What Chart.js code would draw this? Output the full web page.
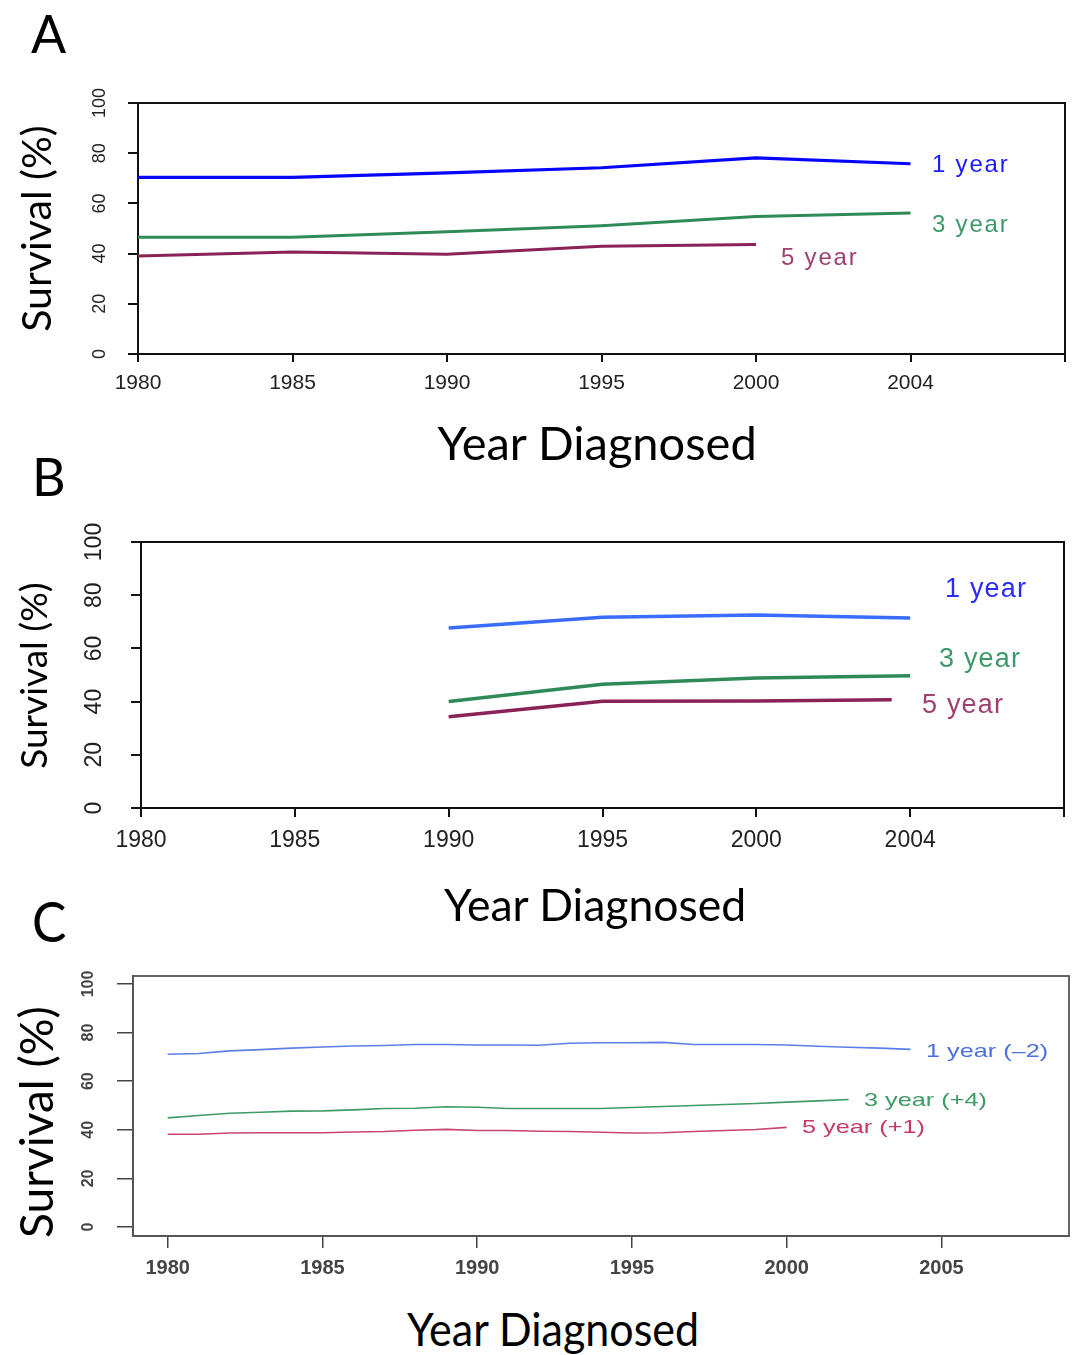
<!DOCTYPE html>
<html>
<head>
<meta charset="utf-8">
<script src="https://cdn.jsdelivr.net/npm/chart.js@4.4.1/dist/chart.umd.min.js"></script>
<style>
  html, body { margin: 0; padding: 0; background: #fff; }
  #root { position: relative; width: 1074px; height: 1355px; overflow: hidden; background: #fff; }
  canvas { position: absolute; left: 0; }
  .t { position: absolute; white-space: nowrap; line-height: 1; margin: 0; }
</style>
</head>
<body>
<div id="root">
  <canvas id="cA" width="1074" height="420" style="top:0px"></canvas>
  <canvas id="cB" width="1074" height="440" style="top:440px"></canvas>
  <canvas id="cC" width="1074" height="400" style="top:900px"></canvas>
</div>
<script>
// ---------------- DATA ----------------
// Panels A and B: periods of diagnosis (equally spaced on the axis)
const periodLabels = ['1980', '1985', '1990', '1995', '2000', '2004', ''];
const periodIndex = [0, 1, 2, 3, 4, 5];

const aOneYear   = [70.4, 70.4, 72.2, 74.2, 78.1, 75.8];
const aThreeYear = [46.5, 46.5, 48.7, 51.1, 54.8, 56.2];
const aFiveYear  = [39.0, 40.6, 39.7, 42.9, 43.6, null];

const bOneYear   = [null, null, 67.7, 71.7, 72.6, 71.4];
const bThreeYear = [null, null, 40.0, 46.5, 48.9, 49.7];
const bFiveYearPos = [2, 3, 4, 4.88];
const bFiveYear  = [34.3, 40.1, 40.2, 40.7];

// Panel C: annual values
const cYears = [1980, 1981, 1982, 1983, 1984, 1985, 1986, 1987, 1988, 1989, 1990, 1991, 1992,
                1993, 1994, 1995, 1996, 1997, 1998, 1999, 2000, 2001, 2002, 2003, 2004];
const cOneYear   = [71.1, 71.4, 72.5, 73.0, 73.6, 74.1, 74.5, 74.7, 75.1, 75.1, 74.9, 74.9, 74.8,
                    75.6, 75.8, 75.8, 76.0, 75.1, 75.1, 75.1, 74.9, 74.4, 74.0, 73.6, 73.1];
const cThreeYear = [44.9, 45.9, 46.8, 47.2, 47.7, 47.8, 48.2, 48.8, 48.9, 49.5, 49.3, 48.8, 48.8,
                    48.8, 48.8, 49.2, 49.6, 50.0, 50.4, 50.8, 51.4, 51.9, 52.5];
const cFiveYear  = [38.2, 38.2, 38.7, 38.8, 38.8, 38.8, 39.1, 39.3, 39.8, 40.2, 39.7, 39.7, 39.4,
                    39.3, 39.0, 38.7, 38.8, 39.3, 39.7, 40.1, 41.0];

const yTicks  = [0, 20, 40, 60, 80, 100];
const cXTicks = [1980, 1985, 1990, 1995, 2000, 2005];

const seriesNames = ['1 year', '3 year', '5 year'];
const cSeriesNames = ['1 year (\u20132)', '3 year (+4)', '5 year (+1)'];

// ---------------- HELPERS ----------------
const SANS = "'Liberation Sans', Arial, Helvetica, sans-serif";
const TITLE = "Lato, 'Open Sans', sans-serif";

const framePlugin = {
  id: 'frame',
  beforeDatasetsDraw(chart, args, opts) {
    const { ctx, chartArea: a } = chart;
    ctx.save();
    ctx.strokeStyle = opts.color || '#000';
    ctx.lineWidth = opts.width || 1;
    ctx.strokeRect(a.left, a.top, a.right - a.left, a.bottom - a.top);
    ctx.restore();
  }
};

function pts(xs, ys) { return ys.map((v, i) => ({ x: xs[i], y: v })); }

function line(label, data, color, width) {
  return { label, data, borderColor: color, backgroundColor: color, borderWidth: width,
           pointRadius: 0, tension: 0, fill: false, spanGaps: false, borderCapStyle: 'butt',
           borderJoinStyle: 'round' };
}

function makeChart(id, p) {
  const H = document.getElementById(id).height;
  return new Chart(document.getElementById(id), {
    type: 'line',
    data: { datasets: p.datasets },
    plugins: [framePlugin],
    options: {
      responsive: false, animation: false, devicePixelRatio: 1,
      layout: { padding: { top: p.area.top, right: 1074 - p.area.right, left: 0, bottom: 0 } },
      plugins: { legend: { display: false }, tooltip: { enabled: false },
                 frame: { color: p.frameColor, width: p.frameWidth } },
      scales: {
        x: {
          type: 'linear', min: p.xMin, max: p.xMax,
          afterBuildTicks: s => { s.ticks = p.xTickValues.map(v => ({ value: v })); },
          afterFit: s => { s.height = H - p.area.bottom; },
          ticks: { callback: p.xLabel, autoSkip: false, maxRotation: 0, minRotation: 0,
                   padding: p.xPad, color: p.tickColor,
                   font: { family: SANS, size: p.xFont, weight: p.tickWeight } },
          grid: { drawOnChartArea: false, drawTicks: true, tickLength: p.xTickLen,
                  color: p.axisColor, lineWidth: p.tickWidth },
          border: { display: true, color: p.axisColor, width: p.frameWidth }
        },
        y: {
          type: 'linear', min: p.yMin, max: p.yMax,
          afterBuildTicks: s => { s.ticks = yTicks.map(v => ({ value: v })); },
          afterFit: s => { s.width = p.area.left; },
          ticks: { minRotation: 90, maxRotation: 90, crossAlign: 'center', padding: p.yPad,
                   color: p.tickColor, font: { family: SANS, size: p.yFont, weight: p.tickWeight } },
          grid: { drawOnChartArea: false, drawTicks: true, tickLength: p.yTickLen,
                  color: p.axisColor, lineWidth: p.tickWidth },
          border: { display: true, color: p.axisColor, width: p.frameWidth }
        }
      }
    }
  });
}

// ---------------- CHARTS ----------------
makeChart('cA', {
  area: { left: 138, right: 1071, top: 103, bottom: 354 },
  xMin: 0, xMax: 6, xTickValues: [0, 1, 2, 3, 4, 5, 6], xLabel: v => periodLabels[v],
  yMin: 0, yMax: 100,
  xFont: 21, yFont: 18, xPad: 9, yPad: 13, xTickLen: 8, yTickLen: 10,
  tickColor: '#222', tickWeight: 'normal', axisColor: '#111', tickWidth: 2,
  frameColor: '#111', frameWidth: 2,
  datasets: [
    line(seriesNames[0], pts(periodIndex, aOneYear), '#0505ff', 3.2),
    line(seriesNames[1], pts(periodIndex, aThreeYear), '#2e8b57', 3),
    line(seriesNames[2], pts(periodIndex, aFiveYear), '#8b2257', 3)
  ]
});

makeChart('cB', {
  area: { left: 141, right: 1073, top: 102, bottom: 368 },
  xMin: 0, xMax: 6, xTickValues: [0, 1, 2, 3, 4, 5, 6], xLabel: v => periodLabels[v],
  yMin: 0, yMax: 100,
  xFont: 23, yFont: 23, xPad: 10, yPad: 17, xTickLen: 9, yTickLen: 10,
  tickColor: '#222', tickWeight: 'normal', axisColor: '#111', tickWidth: 2,
  frameColor: '#111', frameWidth: 2,
  datasets: [
    line(seriesNames[0], pts(periodIndex, bOneYear), '#3a6cff', 3.5),
    line(seriesNames[1], pts(periodIndex, bThreeYear), '#2e8b57', 3.5),
    line(seriesNames[2], pts(bFiveYearPos, bFiveYear), '#8b2257', 3.5)
  ]
});

makeChart('cC', {
  area: { left: 133, right: 1069, top: 76, bottom: 336 },
  xMin: 1978.88, xMax: 2009.12, xTickValues: cXTicks, xLabel: v => String(v),
  yMin: -3.7, yMax: 103.3,
  xFont: 20, yFont: 16, xPad: 8, yPad: 15, xTickLen: 12, yTickLen: 16,
  tickColor: '#444', tickWeight: 'bold', axisColor: '#444', tickWidth: 1.5,
  frameColor: '#555', frameWidth: 1.8,
  datasets: [
    line(cSeriesNames[0], pts(cYears, cOneYear), '#5b7fe6', 1.6),
    line(cSeriesNames[1], pts(cYears, cThreeYear), '#3d9b66', 1.6),
    line(cSeriesNames[2], pts(cYears, cFiveYear), '#c94472', 1.6)
  ]
});

// ---------------- TEXT (real DOM text) ----------------
const root = document.getElementById('root');
function baselineOffset(el) {
  const probe = document.createElement('span');
  probe.style.cssText = 'display:inline-block;width:0;height:0;vertical-align:baseline;';
  el.appendChild(probe);
  const off = probe.offsetTop;
  el.removeChild(probe);
  return off;
}
function addText(txt, o) {
  const d = document.createElement('div');
  d.className = 't';
  d.textContent = txt;
  d.style.fontFamily = o.family || TITLE;
  d.style.fontSize = o.size + 'px';
  d.style.color = o.color || '#000';
  if (o.weight) d.style.fontWeight = o.weight;
  if (o.ls) d.style.letterSpacing = o.ls + 'px';
  d.style.left = '0px'; d.style.top = '0px';
  root.appendChild(d);
  if (o.rotate) {
    const w = d.offsetWidth, h = d.offsetHeight;
    d.style.left = (o.cx - w / 2) + 'px';
    d.style.top = (o.cy - h / 2) + 'px';
    d.style.transform = 'rotate(-90deg)';
  } else {
    const off = baselineOffset(d);
    const w = d.offsetWidth;
    let left = o.x;
    if (o.anchor === 'center') left = o.x - w / 2;
    d.style.left = left + 'px';
    d.style.top = (o.baseline - off) + 'px';
    if (o.scaleX || o.scaleY) {
      const ox = o.anchor === 'center' ? (w / 2) : 0;
      d.style.transformOrigin = ox + 'px ' + off + 'px';
      d.style.transform = 'scale(' + (o.scaleX || 1) + ',' + (o.scaleY || 1) + ')';
    }
  }
}

// panel letters
addText('A', { x: 31, baseline: 53, size: 52 });
addText('B', { x: 32, baseline: 496, size: 52 });
addText('C', { x: 32, baseline: 942, size: 56, scaleX: 0.92 });

// axis titles
addText('Year Diagnosed', { x: 597, baseline: 460, size: 47, anchor: 'center' });
addText('Year Diagnosed', { x: 595, baseline: 921, size: 44.5, anchor: 'center' });
addText('Year Diagnosed', { x: 553, baseline: 1346, size: 43, anchor: 'center', scaleY: 1.08 });
addText('Survival (%)', { rotate: true, cx: 35, cy: 228, size: 41 });
addText('Survival (%)', { rotate: true, cx: 32, cy: 675, size: 37 });
addText('Survival (%)', { rotate: true, cx: 36, cy: 1122, size: 46 });

// series labels
addText(seriesNames[0], { x: 932, baseline: 172, size: 24, family: SANS, ls: 1.8, color: '#1a1aff' });
addText(seriesNames[1], { x: 932, baseline: 232, size: 24, family: SANS, ls: 1.8, color: '#3c9a6a' });
addText(seriesNames[2], { x: 781, baseline: 265, size: 24, family: SANS, ls: 1.8, color: '#a04070' });

addText(seriesNames[0], { x: 945, baseline: 597, size: 27, family: SANS, ls: 1.2, color: '#2a2aff' });
addText(seriesNames[1], { x: 939, baseline: 667, size: 27, family: SANS, ls: 1.2, color: '#3c9a6a' });
addText(seriesNames[2], { x: 922, baseline: 713, size: 27, family: SANS, ls: 1.2, color: '#a04070' });

addText(cSeriesNames[0], { x: 926, baseline: 1057, size: 19, family: SANS, scaleX: 1.33, color: '#4d6fe0' });
addText(cSeriesNames[1], { x: 864, baseline: 1106, size: 19, family: SANS, scaleX: 1.33, color: '#3f9a63' });
addText(cSeriesNames[2], { x: 802, baseline: 1133, size: 19, family: SANS, scaleX: 1.33, color: '#c8396b' });
</script>
</body>
</html>
